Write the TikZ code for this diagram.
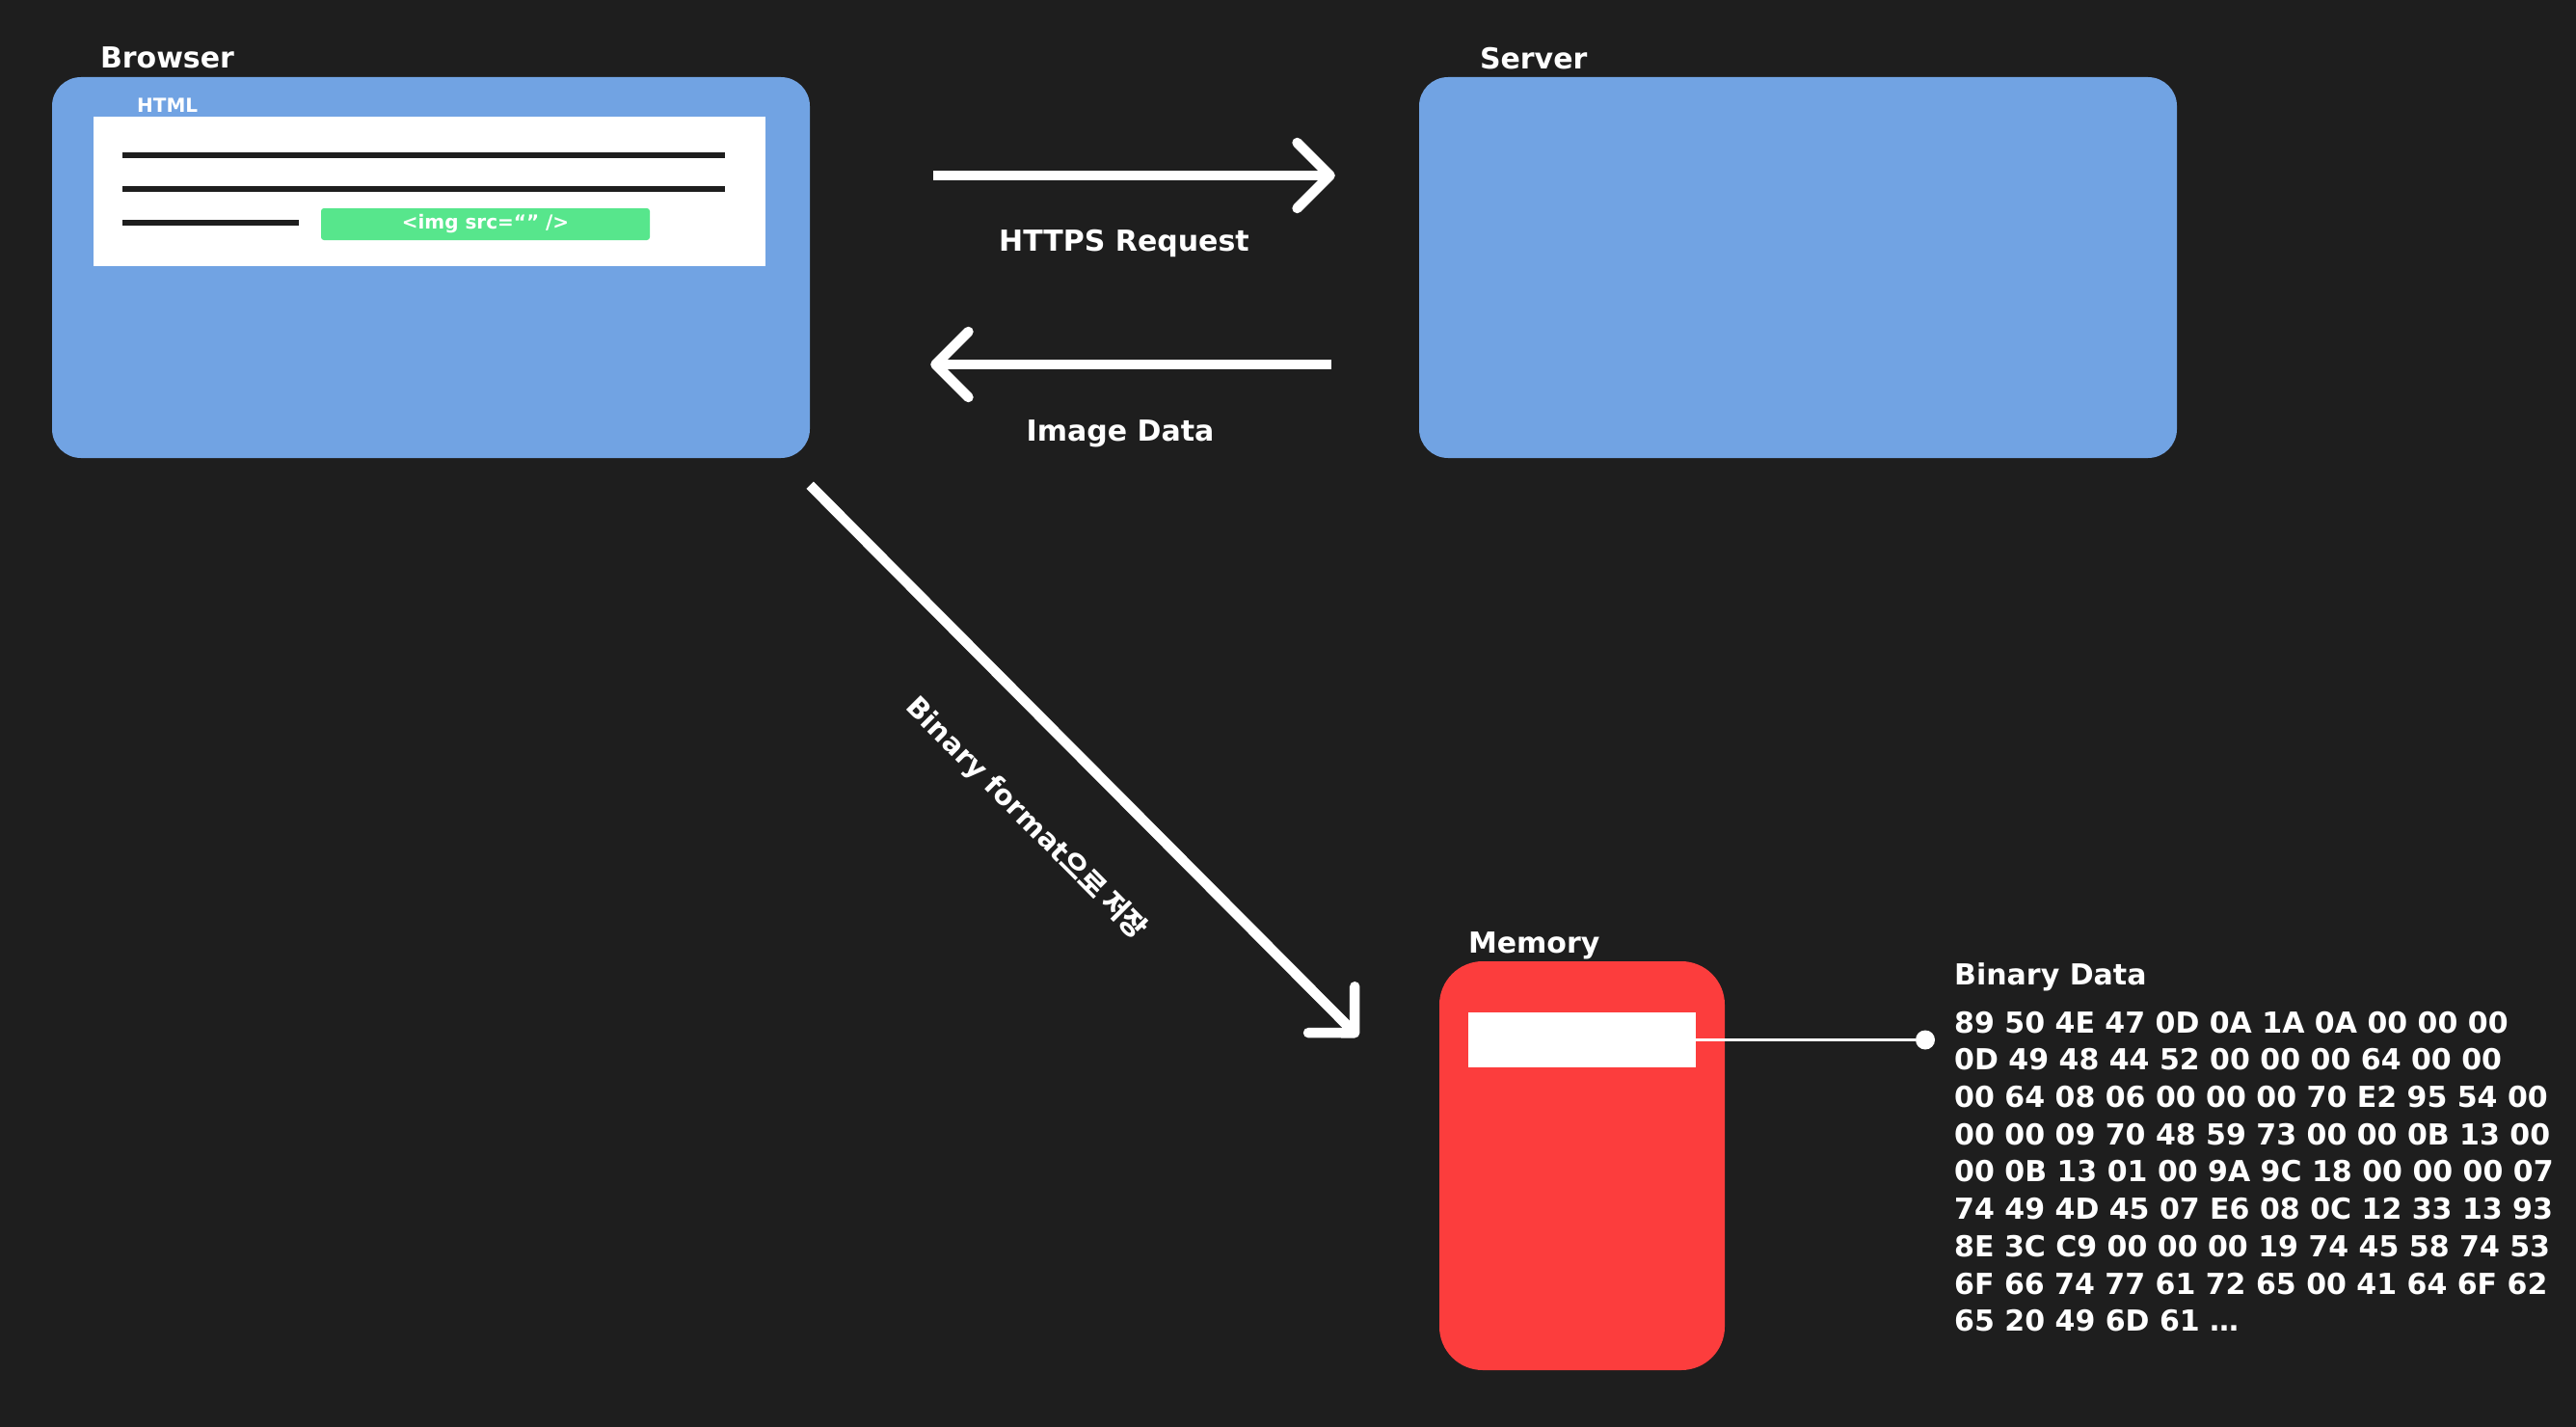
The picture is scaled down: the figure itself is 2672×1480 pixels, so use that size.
\documentclass[tikz,border=0pt]{standalone}
\usepackage{fontspec}
\setmainfont{DejaVu Sans}
\newfontfamily\krfont{Noto Sans CJK KR}
\usetikzlibrary{arrows.meta,positioning}
\definecolor{canvas}{HTML}{1E1E1E}
\definecolor{panel}{HTML}{71A3E3}
\definecolor{tag}{HTML}{57E68C}
\definecolor{mem}{HTML}{FC3D3D}
\newcommand{\fsz}[1]{\fontsize{#1}{#1}\selectfont\bfseries}
\tikzset{
  every node/.style={text=white,inner sep=0pt},
  box/.style={fill=panel,rounded corners=30pt,minimum width=786pt,minimum height=395pt},
  membox/.style={fill=mem,rounded corners=45pt,minimum width=296pt,minimum height=424pt},
  title/.style={font=\fsz{30},anchor=north west},
  flow/.style={draw=white,line width=10.5pt,-{Straight Barb[round,length=34pt,width=68pt]}},
  textline/.style={draw=canvas,line width=6.5pt},
  link/.style={draw=white,line width=3pt},
  label/.style={font=\fsz{30}},
}

\begin{document}
\begin{tikzpicture}[x=1pt,y=-1pt]
\fill[canvas] (0,0) rectangle (2672,1480);
\useasboundingbox (0,0) rectangle (2672,1480);

\node[box] (browser) at (447,277.5) {};
\node[box] (server) at (1865,277.5) {};
\node[title] (browserlbl) at ([xshift=50pt,yshift=31pt]browser.north west) {Browser};
\node[title] (serverlbl) at ([xshift=63pt,yshift=31pt]server.north west) {Server};

\node[fill=white,minimum width=697pt,minimum height=155pt] (page) at (445.5,198.5) {};
\node[font=\fsz{20},anchor=north west] (htmllbl) at (142,102) {HTML};
\draw[textline] (127,161) -- (752,161);
\draw[textline] (127,196) -- (752,196);
\draw[textline] (127,231) -- (310,231);
\node[fill=tag,rounded corners=3pt,minimum width=341pt,minimum height=33pt,font=\fsz{20}] (imgtag) at (503.5,232.5) {<img src=“” />};

\draw[flow,shorten <=128pt,shorten >=87pt] ([yshift=95.5pt]browser.east) -- node[label,below=51pt,xshift=10pt]{HTTPS Request} ([yshift=95.5pt]server.west);
\draw[flow,shorten <=91pt,shorten >=125pt] ([yshift=-100.5pt]server.west) -- node[label,below=52pt,xshift=6pt]{Image Data} ([yshift=-100.5pt]browser.east);

\node[membox] (memory) at (1641,1209) {};
\node[title] (memorylbl) at ([xshift=30pt,yshift=30pt]memory.north west) {Memory};
\node[fill=white,minimum width=236pt,minimum height=57pt] (slot) at (1641,1078.5) {};
\node[circle,fill=white,minimum size=20pt] (dot) at (1997,1078.5) {};
\draw[link] (slot.east) -- (dot);

\coordinate (memin) at ([xshift=-84pt,yshift=134pt]memory.west);
\draw[flow] ([yshift=-28pt]browser.south east) -- node[midway,sloped,below=64pt,font=\fsz{29}]{Binary format{\krfont\bfseries 으로 저장}} (memin);

\node[title] (binlbl) at (2027,998) {Binary Data};
\node[below=21pt of binlbl.south west,anchor=north west,align=left,font=\fontsize{30}{38.7}\selectfont\bfseries] (hex) {89 50 4E 47 0D 0A 1A 0A 00 00 00\\0D 49 48 44 52 00 00 00 64 00 00\\00 64 08 06 00 00 00 70 E2 95 54 00\\00 00 09 70 48 59 73 00 00 0B 13 00\\00 0B 13 01 00 9A 9C 18 00 00 00 07\\74 49 4D 45 07 E6 08 0C 12 33 13 93\\8E 3C C9 00 00 00 19 74 45 58 74 53\\6F 66 74 77 61 72 65 00 41 64 6F 62\\65 20 49 6D 61 \dots};

\end{tikzpicture}
\end{document}
